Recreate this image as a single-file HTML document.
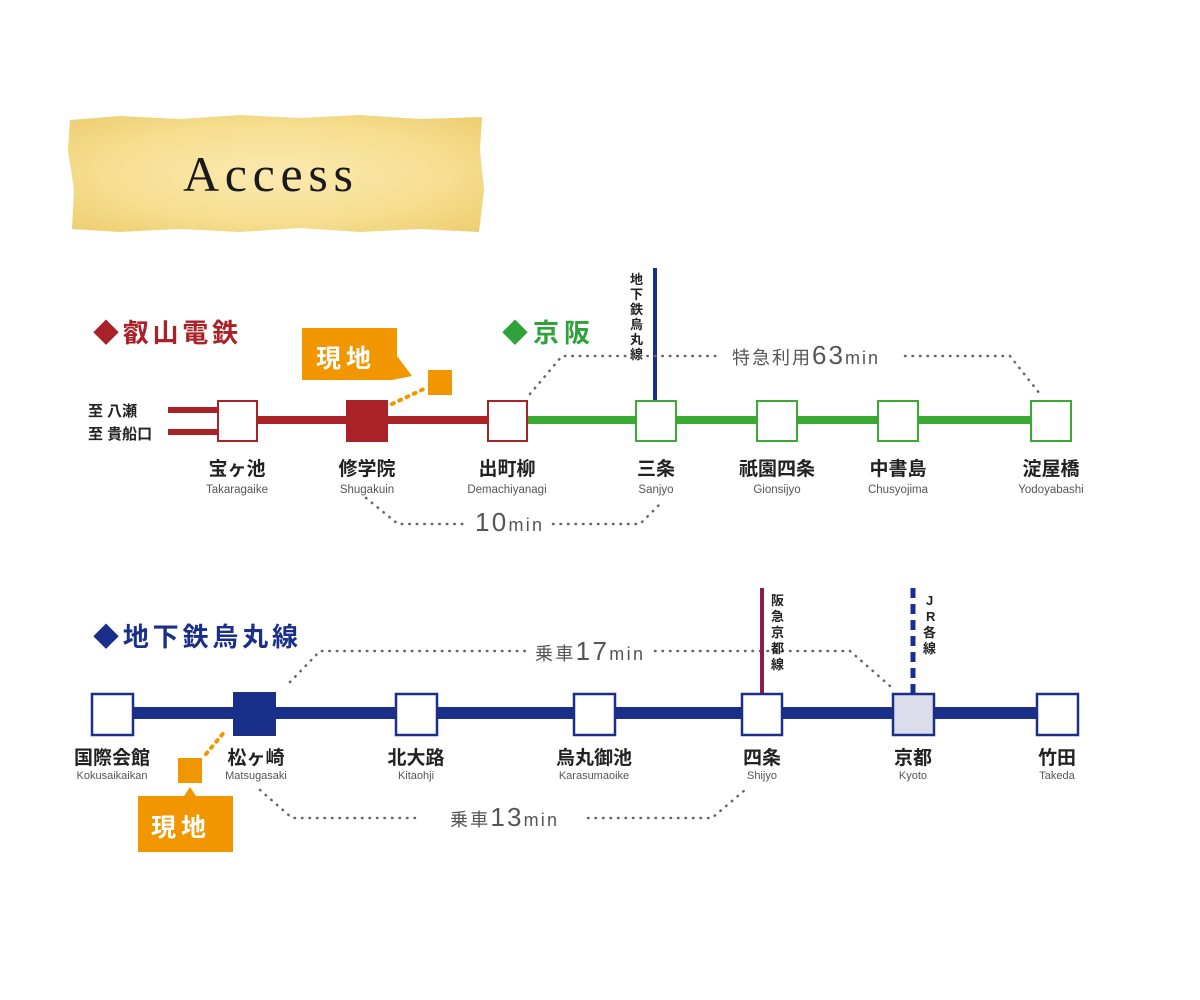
<!DOCTYPE html>
<html><head><meta charset="utf-8"><style>
body{margin:0;background:#fff}
svg{display:block}
.j{font-family:"Liberation Sans","Noto Sans CJK JP",sans-serif}
</style></head><body>
<svg width="1200" height="1000" viewBox="0 0 1200 1000" class="j">
<defs>
<radialGradient id="pg" cx="50%" cy="50%" r="70%">
<stop offset="0" stop-color="#fbeab0"/><stop offset="0.6" stop-color="#f6de8f"/><stop offset="1" stop-color="#eccd70"/>
</radialGradient>
</defs>
<path d="M70 120 L120 116 L180 119 L240 115 L300 118 L360 115 L420 119 L482 117 L480 150 L484 190 L479 232 L420 229 L360 232 L300 228 L240 232 L180 229 L120 232 L72 229 L74 190 L68 150 Z" fill="url(#pg)"/>
<text x="183" y="191" font-family="'Liberation Serif',serif" font-size="50" fill="#1a1a1a" textLength="170" lengthAdjust="spacing">Access</text>

<!-- Eizan -->
<text x="93" y="342" font-size="26" font-weight="bold" fill="#a82228" textLength="145">◆叡山電鉄</text>
<text x="502" y="342" font-size="26" font-weight="bold" fill="#2fa23a" textLength="88">◆京阪</text>
<line x1="168" y1="410" x2="220" y2="410" stroke="#a82228" stroke-width="6"/>
<line x1="168" y1="432" x2="220" y2="432" stroke="#a82228" stroke-width="6"/>
<text x="88" y="416" font-size="15" font-weight="bold" fill="#222">至 八瀬</text>
<text x="88" y="439" font-size="15" font-weight="bold" fill="#222">至 貴船口</text>
<line x1="218" y1="420" x2="508" y2="420" stroke="#a82228" stroke-width="8"/>
<line x1="528" y1="420" x2="1070" y2="420" stroke="#3aaa35" stroke-width="8"/>
<line x1="655" y1="268" x2="655" y2="401" stroke="#1a2f8a" stroke-width="4"/>
<text font-size="13" font-weight="bold" fill="#222"><tspan x="630" y="284">地</tspan><tspan x="630" y="299">下</tspan><tspan x="630" y="314">鉄</tspan><tspan x="630" y="329">烏</tspan><tspan x="630" y="344">丸</tspan><tspan x="630" y="359">線</tspan></text>
<rect x="218" y="401" width="39" height="40" fill="#fff" stroke="#a82228" stroke-width="2"/>
<rect x="346" y="400" width="42" height="42" fill="#a82228"/>
<rect x="488" y="401" width="39" height="40" fill="#fff" stroke="#a82228" stroke-width="2"/>
<rect x="636" y="401" width="40" height="40" fill="#fff" stroke="#3aaa35" stroke-width="2"/>
<rect x="757" y="401" width="40" height="40" fill="#fff" stroke="#3aaa35" stroke-width="2"/>
<rect x="878" y="401" width="40" height="40" fill="#fff" stroke="#3aaa35" stroke-width="2"/>
<rect x="1031" y="401" width="40" height="40" fill="#fff" stroke="#3aaa35" stroke-width="2"/>
<g font-size="19" font-weight="bold" fill="#222" text-anchor="middle">
<text x="237" y="475">宝ヶ池</text><text x="367" y="475">修学院</text><text x="507" y="475">出町柳</text>
<text x="656" y="475">三条</text><text x="777" y="475">祇園四条</text><text x="898" y="475">中書島</text><text x="1051" y="475">淀屋橋</text>
</g>
<g font-size="11.5" fill="#555" text-anchor="middle">
<text x="237" y="493">Takaragaike</text><text x="367" y="493">Shugakuin</text><text x="507" y="493">Demachiyanagi</text>
<text x="656" y="493">Sanjyo</text><text x="777" y="493">Gionsijyo</text><text x="898" y="493">Chusyojima</text><text x="1051" y="493">Yodoyabashi</text>
</g>
<!-- genchi top -->
<path d="M302 328 H397 V356 L412 376 L392 380 H302 Z" fill="#f29600"/>
<text x="316" y="367" font-size="25" font-weight="bold" fill="#fff" letter-spacing="5">現地</text>
<rect x="428" y="370" width="24" height="25" fill="#f29600"/>
<line x1="392" y1="404" x2="426" y2="388" stroke="#f29600" stroke-width="4" stroke-dasharray="2 6" stroke-linecap="round"/>
<g fill="none" stroke="#666" stroke-width="2.5" stroke-dasharray="0.5 7" stroke-linecap="round">
<path d="M530 394 L562 356 H722"/>
<path d="M905 356 H1010 L1040 394"/>
<path d="M366 498 L398 524 H465"/>
<path d="M553 524 H640 L662 502"/>
<path d="M290 682 L320 651 H528"/>
<path d="M655 651 H850 L890 686"/>
<path d="M260 790 L292 818 H415"/>
<path d="M588 818 H712 L745 790"/>
</g>
<text x="732" y="364" font-size="18" fill="#555" textLength="146">特急利用<tspan font-size="26">63</tspan>min</text>
<text x="475" y="531" font-size="26" fill="#555" textLength="67">10<tspan font-size="18">min</tspan></text>

<!-- subway -->
<text x="93" y="646" font-size="26" font-weight="bold" fill="#1a2f8a" textLength="205">◆地下鉄烏丸線</text>
<line x1="112" y1="713" x2="1060" y2="713" stroke="#1a2f8a" stroke-width="12"/>
<line x1="762" y1="588" x2="762" y2="694" stroke="#8a1f4f" stroke-width="4"/>
<line x1="913" y1="588" x2="913" y2="694" stroke="#1a2f8a" stroke-width="5" stroke-dasharray="10 6"/>
<text font-size="13" font-weight="bold" fill="#222"><tspan x="771" y="605">阪</tspan><tspan x="771" y="621">急</tspan><tspan x="771" y="637">京</tspan><tspan x="771" y="653">都</tspan><tspan x="771" y="669">線</tspan></text>
<text font-size="13" font-weight="bold" fill="#222"><tspan x="926" y="605">J</tspan><tspan x="926" y="621">R</tspan><tspan x="923" y="637">各</tspan><tspan x="923" y="653">線</tspan></text>
<g stroke="#1a2f8a" stroke-width="2.5" fill="#fff">
<rect x="92" y="694" width="41" height="41"/>
<rect x="396" y="694" width="41" height="41"/>
<rect x="574" y="694" width="41" height="41"/>
<rect x="742" y="694" width="40" height="41"/>
<rect x="893" y="694" width="41" height="41" fill="#dcdcea"/>
<rect x="1037" y="694" width="41" height="41"/>
</g>
<rect x="233" y="692" width="43" height="44" fill="#1a2f8a"/>
<g font-size="19" font-weight="bold" fill="#222" text-anchor="middle">
<text x="112" y="764">国際会館</text><text x="256" y="764">松ヶ崎</text><text x="416" y="764">北大路</text>
<text x="594" y="764">烏丸御池</text><text x="762" y="764">四条</text><text x="913" y="764">京都</text><text x="1057" y="764">竹田</text>
</g>
<g font-size="11" fill="#555" text-anchor="middle">
<text x="112" y="779">Kokusaikaikan</text><text x="256" y="779">Matsugasaki</text><text x="416" y="779">Kitaohji</text>
<text x="594" y="779">Karasumaoike</text><text x="762" y="779">Shijyo</text><text x="913" y="779">Kyoto</text><text x="1057" y="779">Takeda</text>
</g>
<text x="535" y="660" font-size="18" fill="#555" textLength="108">乗車<tspan font-size="26">17</tspan>min</text>
<text x="450" y="826" font-size="18" fill="#555" textLength="107">乗車<tspan font-size="26">13</tspan>min</text>
<rect x="178" y="758" width="24" height="25" fill="#f29600"/>
<line x1="206" y1="754" x2="226" y2="730" stroke="#f29600" stroke-width="4" stroke-dasharray="2 6" stroke-linecap="round"/>
<path d="M138 796 H184 L190 787 L196 796 H233 V852 H138 Z" fill="#f29600"/>
<text x="151" y="836" font-size="25" font-weight="bold" fill="#fff" letter-spacing="5">現地</text>
</svg>
</body></html>
